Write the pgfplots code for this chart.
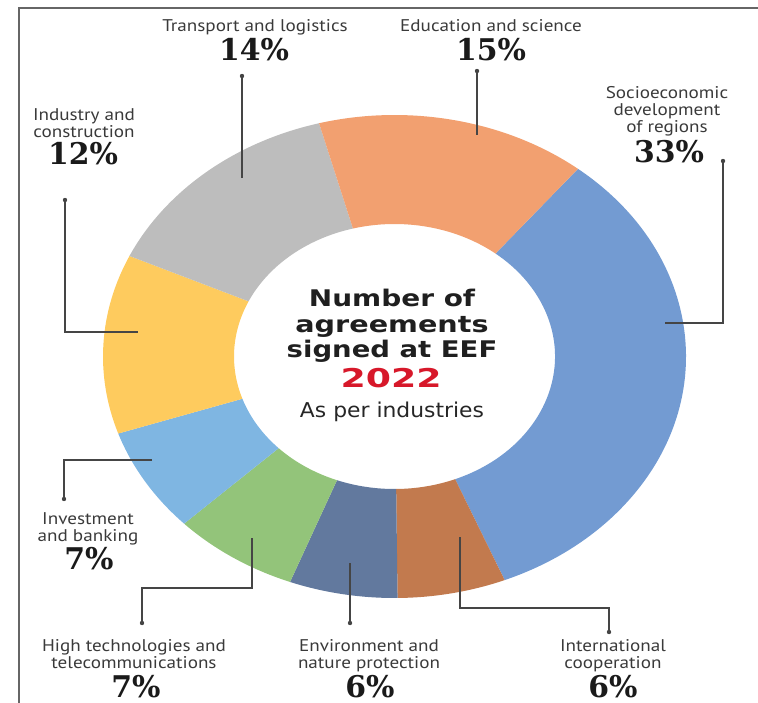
\documentclass[border=0pt]{standalone}
\usepackage{fontspec}
\usepackage{graphicx}
\usepackage{pgfplots}
\usepackage{pgfplotstable}
\pgfplotsset{compat=1.18}
\setmainfont{PT Sans}
\newfontfamily\titlefont{DejaVu Sans}
\newfontfamily\pctfont{DejaVu Serif}

\definecolor{cSocio}{HTML}{739BD2}
\definecolor{cIntl}{HTML}{C27A4E}
\definecolor{cEnv}{HTML}{62799E}
\definecolor{cHigh}{HTML}{93C47A}
\definecolor{cInv}{HTML}{7FB6E2}
\definecolor{cInd}{HTML}{FECB5E}
\definecolor{cTrans}{HTML}{BDBDBD}
\definecolor{cEdu}{HTML}{F2A070}
\definecolor{cRed}{HTML}{D7182A}
\definecolor{labcol}{HTML}{3A3A3A}
\definecolor{pctcol}{HTML}{1A1A1A}
\definecolor{leadcol}{HTML}{454545}

% share (%) of agreements, clockwise from the top right
\pgfplotstableread{
label value color
Socioeconomic 33 cSocio
International 6 cIntl
Environment 6 cEnv
HighTech 7 cHigh
Investment 7 cInv
Industry 12 cInd
Transport 14 cTrans
Education 15 cEdu
}\datatable

\newcommand{\lab}[3]{\node[anchor=base, font=\fontsize{17}{17}\selectfont, text=labcol, inner sep=0pt] at (axis cs:#1,#2) {\scalebox{1.13}[1]{#3}};}
\newcommand{\pct}[3]{\node[anchor=base, font=\pctfont\bfseries\fontsize{30}{30}\selectfont, text=pctcol, inner sep=0pt] at (axis cs:#1,#2) {#3};}

\begin{document}
\begin{tikzpicture}
\begin{axis}[
  scale only axis, width=758bp, height=703bp,
  xmin=0, xmax=758, ymin=0, ymax=703, y dir=reverse,
  hide axis, clip=false]

% frame lines
\draw[gray!80!black, line width=1.2bp] (axis cs:19,703) -- (axis cs:19,8) -- (axis cs:758,8);

% donut segments
\pgfplotstablegetrowsof{\datatable}
\pgfmathtruncatemacro{\nrows}{\pgfplotsretval-1}
\gdef\cum{51}
\pgfplotsforeachungrouped \i in {0,...,\nrows} {%
  \pgfplotstablegetelem{\i}{value}\of\datatable
  \let\v=\pgfplotsretval
  \pgfplotstablegetelem{\i}{color}\of\datatable
  \let\c=\pgfplotsretval
  \pgfmathsetmacro{\a}{\cum}%
  \pgfmathsetmacro{\b}{\cum-3.6*\v}%
  \edef\cmd{\noexpand\fill[\c] (axis cs:{394.5+291.5*cos(\a)},{356.5-241.5*sin(\a)})
    arc[start angle=\a, end angle=\b, x radius=291.5bp, y radius=241.5bp]
    -- (axis cs:{394.5+160.5*cos(\b)},{356.5-132.5*sin(\b)})
    arc[start angle=\b, end angle=\a, x radius=160.5bp, y radius=132.5bp] -- cycle;}%
  \cmd
  \global\let\cum=\b
}

% leader lines
\begin{scope}[leadcol, line width=1.1bp]
\draw (axis cs:242,76) -- (axis cs:242,178);
\fill (axis cs:242,76) circle[radius=2.2bp];
\draw (axis cs:477,71) -- (axis cs:477,135);
\fill (axis cs:477,71) circle[radius=2.2bp];
\draw (axis cs:723,161) -- (axis cs:723,323) -- (axis cs:665,323);
\fill (axis cs:723,161) circle[radius=2.2bp];
\draw (axis cs:65,200) -- (axis cs:65,332) -- (axis cs:138,332);
\fill (axis cs:65,200) circle[radius=2.2bp];
\draw (axis cs:152,460) -- (axis cs:64,460) -- (axis cs:64,499);
\fill (axis cs:64,499) circle[radius=2.2bp];
\draw (axis cs:252,538) -- (axis cs:252,588) -- (axis cs:142,588) -- (axis cs:142,623);
\fill (axis cs:142,623) circle[radius=2.2bp];
\draw (axis cs:350,563) -- (axis cs:350,623);
\fill (axis cs:350,623) circle[radius=2.2bp];
\draw (axis cs:460,537) -- (axis cs:460,608) -- (axis cs:609,608) -- (axis cs:609,632);
\fill (axis cs:609,632) circle[radius=2.2bp];
\end{scope}

% labels
\lab{255}{32}{Transport and logistics}
\pct{254}{61}{14\%}
\lab{491}{32}{Education and science}
\pct{491}{61}{15\%}
\lab{667}{99}{Socioeconomic}
\lab{667}{116}{development}
\lab{667}{133}{of regions}
\pct{669}{163}{33\%}
\lab{84}{121}{Industry and}
\lab{84}{138}{construction}
\pct{83}{165}{12\%}
\lab{88}{524}{Investment}
\lab{88}{541}{and banking}
\pct{89}{569}{7\%}
\lab{134}{651}{High technologies and}
\lab{134}{668}{telecommunications}
\pct{136}{697}{7\%}
\lab{369}{651}{Environment and}
\lab{369}{668}{nature protection}
\pct{370}{697}{6\%}
\lab{613}{651}{International}
\lab{613}{668}{cooperation}
\pct{613}{697}{6\%}

% centre text
\node[anchor=base, inner sep=0pt, text=black!88, font=\titlefont\bfseries\fontsize{23}{23}\selectfont] at (axis cs:392,306) {\scalebox{1.22}[1]{Number of}};
\node[anchor=base, inner sep=0pt, text=black!88, font=\titlefont\bfseries\fontsize{23}{23}\selectfont] at (axis cs:392,332) {\scalebox{1.25}[1]{agreements}};
\node[anchor=base, inner sep=0pt, text=black!88, font=\titlefont\bfseries\fontsize{23}{23}\selectfont] at (axis cs:392,357) {\scalebox{1.2}[1]{signed at EEF}};
\node[anchor=base, inner sep=0pt, text=cRed, font=\titlefont\bfseries\fontsize{26}{26}\selectfont] at (axis cs:391,387) {\scalebox{1.4}[1]{2022}};
\node[anchor=base, inner sep=0pt, text=black!85, font=\titlefont\fontsize{20.5}{20.5}\selectfont] at (axis cs:392,417) {\scalebox{1.07}[1]{As per industries}};
\end{axis}
\pgfresetboundingbox
\useasboundingbox (current axis.south west) rectangle (current axis.north east);
\end{tikzpicture}
\end{document}
